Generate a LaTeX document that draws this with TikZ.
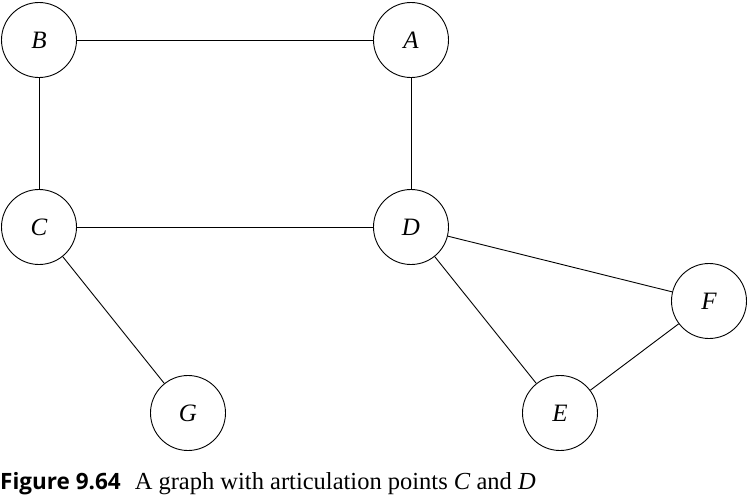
\documentclass[tikz,border=0pt]{standalone}
\usepackage{fontspec}
\setmainfont{Liberation Serif}
\newfontfamily\capfont{Open Sans}
\usetikzlibrary{positioning}

\begin{document}
\begin{tikzpicture}[x=1pt,y=-1pt,
  vertex/.style={circle,draw,line width=0.9pt,minimum size=75pt,inner sep=0pt,font=\fontsize{25}{28}\selectfont\itshape},
  link/.style={line width=0.9pt}]
\useasboundingbox (0,0) rectangle (749,501);
% nodes
 \node[vertex] (B) at (39,40) {B};
 \node[vertex] (A) at (411,40) {A};
 \node[vertex] (C) at (39,227) {C};
 \node[vertex] (D) at (411,227) {D};
 \node[vertex] (F) at (709,301) {F};
 \node[vertex] (E) at (560,413) {E};
 \node[vertex] (G) at (188,413) {G};
% edges
 \draw[link] (B) -- (A);
 \draw[link] (B) -- (C);
 \draw[link] (A) -- (D);
 \draw[link] (C) -- (D);
 \draw[link] (C) -- (G);
 \draw[link] (D) -- (F);
 \draw[link] (D) -- (E);
 \draw[link] (E) -- (F);
% caption
 \node[anchor=base west,inner sep=0pt,font=\fontsize{24.5}{28}\selectfont] (cap) at (0,489)
   {{\capfont\fontsize{22.5}{27}\selectfont\bfseries Figure 9.64}\hspace{14pt}A graph with articulation points \textit{C} and \textit{D}};
\end{tikzpicture}
\end{document}
